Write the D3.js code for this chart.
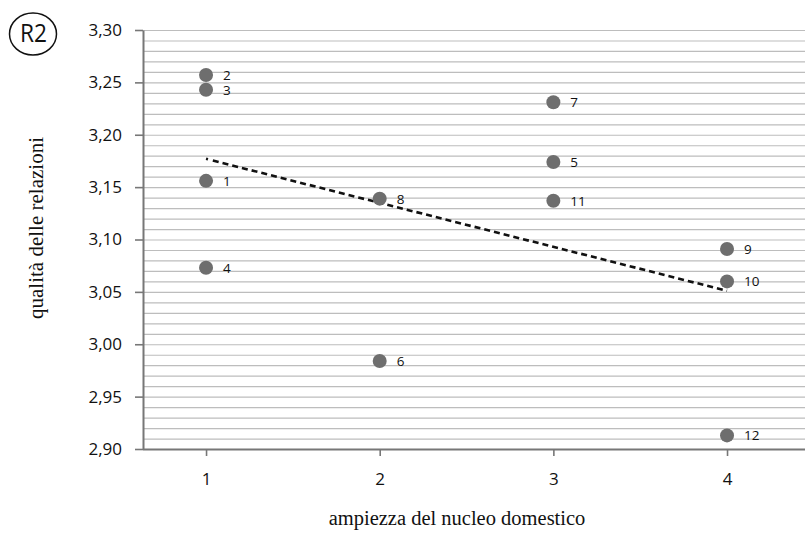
<!DOCTYPE html>
<html>
<head>
<meta charset="utf-8">
<script src="https://cdn.jsdelivr.net/npm/d3@7"></script>
<style>
  html, body { margin: 0; padding: 0; background: #fff; }
  svg { display: block; }
</style>
</head>
<body>
<svg id="chart" width="805" height="533"></svg>
<script>
// Household size (x), relationship quality (y), case number
const caseIds   = [1, 2, 3, 4, 5, 6, 7, 8, 9, 10, 11, 12];
const household = [1, 1, 1, 1, 3, 2, 3, 2, 4, 4, 3, 4];
const quality   = [3.156, 3.257, 3.243, 3.073, 3.174, 2.984, 3.231, 3.139, 3.091, 3.060, 3.137, 2.913];

// Trend line end points
const trendX = [1, 4];
const trendY = [3.177, 3.051];

const xTicks = [1, 2, 3, 4];
const yTicks = [2.90, 2.95, 3.00, 3.05, 3.10, 3.15, 3.20, 3.25, 3.30];
const yGrid  = d3.range(290, 331).map(v => v / 100);

const svg = d3.select("#chart");
const plotLeft = 143, plotRight = 805, plotTop = 30, plotBottom = 449;

const x = d3.scaleLinear().domain([0.637, 4.449]).range([plotLeft, plotRight]);
const y = d3.scaleLinear().domain([2.90, 3.30]).range([plotBottom, plotTop]);

const fmt = v => v.toFixed(2).replace(".", ",");
const sans = "'Open Sans', sans-serif";
const serif = "'Liberation Serif', 'Times New Roman', serif";

// horizontal grid
svg.append("g")
  .selectAll("line")
  .data(yGrid)
  .join("line")
  .attr("x1", plotLeft).attr("x2", plotRight)
  .attr("y1", d => y(d) + 0.5).attr("y2", d => y(d) + 0.5)
  .attr("stroke", "#bdbdbd").attr("stroke-width", 1.2);

// y axis
const yAxis = svg.append("g")
  .attr("transform", `translate(${plotLeft},0)`)
  .call(d3.axisLeft(y).tickValues(yTicks).tickFormat(fmt).tickSize(8).tickSizeOuter(0));
yAxis.select(".domain").attr("stroke", "#777").attr("stroke-width", 2);
yAxis.selectAll(".tick line").attr("stroke", "#777").attr("stroke-width", 1.6);
yAxis.selectAll(".tick text")
  .attr("x", -21)
  .attr("fill", "#111")
  .style("font-family", sans)
  .style("font-size", "17px");

// x axis
const xAxis = svg.append("g")
  .attr("transform", `translate(0,${plotBottom})`)
  .call(d3.axisBottom(x).tickValues(xTicks).tickFormat(d3.format("d")).tickSize(7).tickSizeOuter(0));
xAxis.select(".domain").attr("stroke", "#777").attr("stroke-width", 2)
  .attr("d", `M${plotLeft},0.5H${plotRight}`);
xAxis.selectAll(".tick line").attr("stroke", "#777").attr("stroke-width", 1.6);
xAxis.selectAll(".tick text")
  .attr("y", 24)
  .attr("fill", "#111")
  .style("font-family", sans)
  .style("font-size", "17px");

// trend line: a short dot then regular dashes
const dashes = ["2", "5"].concat(d3.range(60).flatMap(() => ["6", "4"])).join(",");
svg.append("path")
  .datum(trendX.map((d, i) => [d, trendY[i]]))
  .attr("d", d3.line().x(d => x(d[0])).y(d => y(d[1])))
  .attr("fill", "none")
  .attr("stroke", "#111")
  .attr("stroke-width", 2.6)
  .attr("stroke-dasharray", dashes);

// points
const pts = caseIds.map((id, i) => ({ id, hx: household[i], q: quality[i] }));
svg.append("g")
  .selectAll("circle")
  .data(pts)
  .join("circle")
  .attr("cx", d => x(d.hx))
  .attr("cy", d => y(d.q))
  .attr("r", 7)
  .attr("fill", "#6e6e6e");

svg.append("g")
  .selectAll("text")
  .data(pts)
  .join("text")
  .attr("x", d => x(d.hx) + 17)
  .attr("y", d => y(d.q) + 5)
  .attr("fill", "#111")
  .style("font-family", sans)
  .style("font-size", "13.5px")
  .text(d => d.id);

// axis titles
svg.append("text")
  .attr("transform", "translate(43,228) rotate(-90)")
  .attr("text-anchor", "middle")
  .style("font-family", serif)
  .style("font-size", "21px")
  .attr("fill", "#111")
  .text("qualità delle relazioni");

svg.append("text")
  .attr("x", 457)
  .attr("y", 525)
  .attr("text-anchor", "middle")
  .style("font-family", serif)
  .style("font-size", "20.5px")
  .attr("fill", "#111")
  .text("ampiezza del nucleo domestico");

// panel tag
svg.append("ellipse")
  .attr("cx", 33).attr("cy", 34).attr("rx", 23.5).attr("ry", 21)
  .attr("fill", "none").attr("stroke", "#111").attr("stroke-width", 1.5);
svg.append("text")
  .attr("x", 33.5).attr("y", 42)
  .attr("text-anchor", "middle")
  .attr("textLength", 27)
  .attr("lengthAdjust", "spacingAndGlyphs")
  .style("font-family", sans)
  .style("font-size", "26px")
  .attr("fill", "#111")
  .text("R2");
</script>
</body>
</html>
